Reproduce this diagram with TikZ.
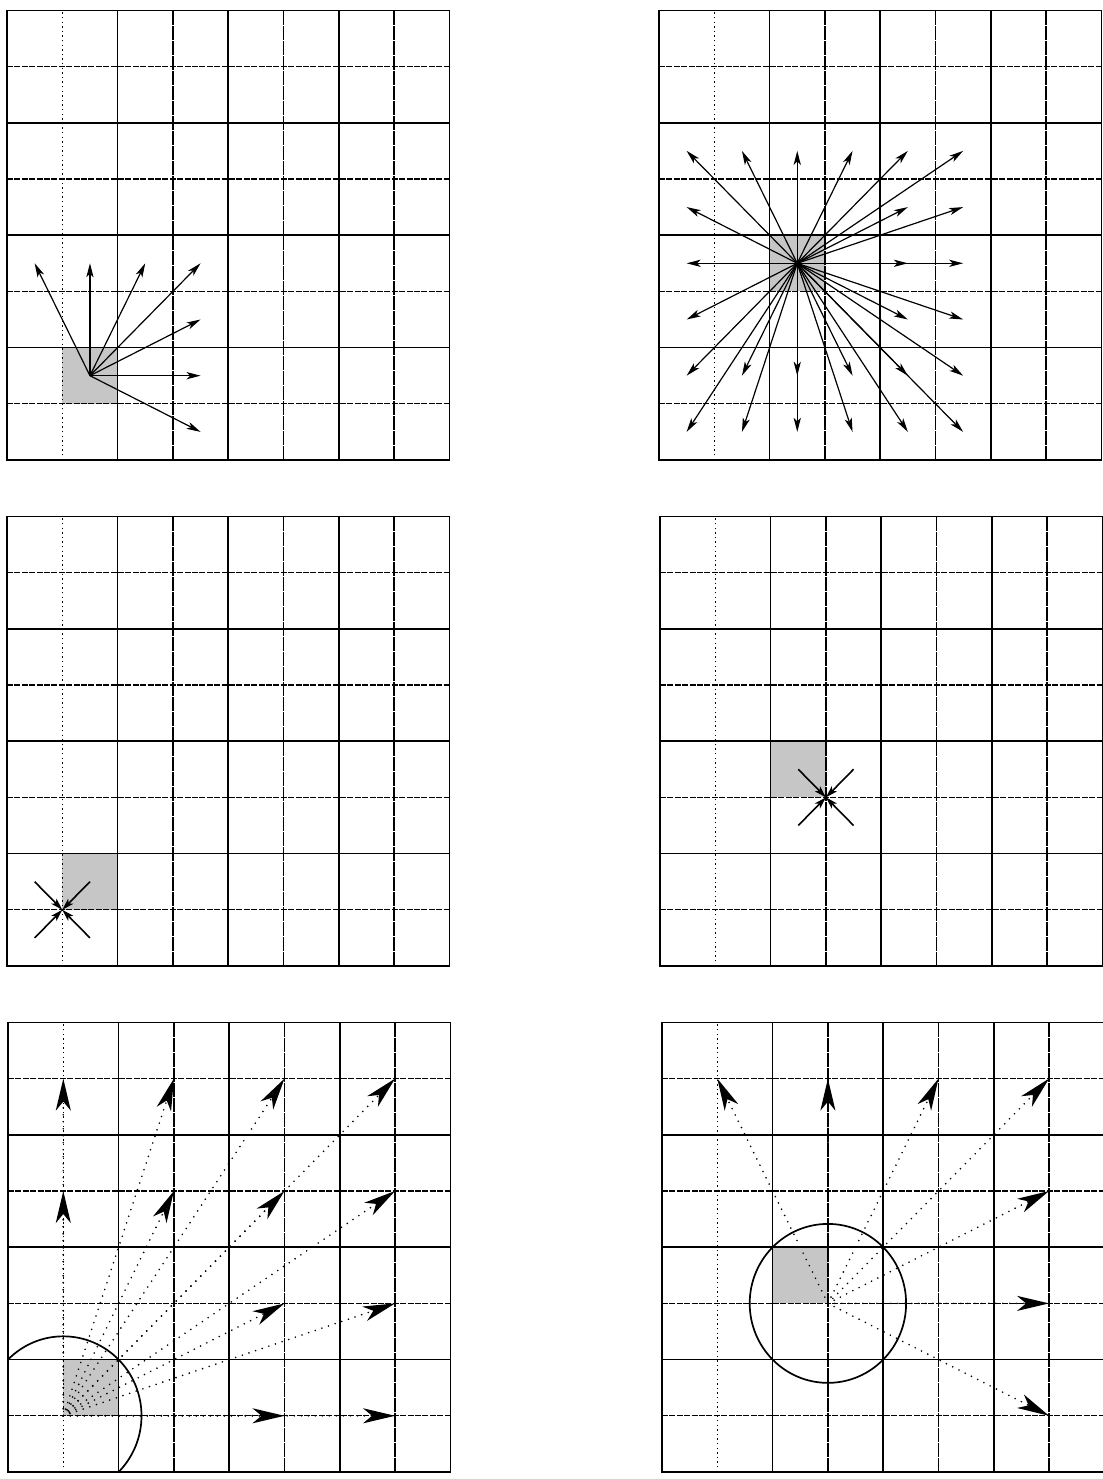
\documentclass[tikz,border=0pt]{standalone}
\usetikzlibrary{arrows.meta}
\tikzset{
  solidline/.style={line width=0.85pt},
  hdash/.style={line width=0.65pt, dash pattern=on 3pt off 0.7pt},
  vdash/.style={line width=0.65pt, dash pattern=on 7pt off 0.5pt},
  vdot/.style={line width=0.7pt, dash pattern=on 0.7pt off 1.6pt},
  thinarrow/.style={line width=0.6pt, -{Stealth[length=7pt,width=3.6pt,inset=1.8pt]}},
  convarrow/.style={line width=0.8pt, -{Stealth[length=6pt,width=3.6pt,inset=1.5pt]}},
  dotarrow/.style={line width=0.9pt, line cap=round, dash pattern=on 0pt off 3.5pt, -{Stealth[length=16pt,width=7.5pt,inset=4.5pt]}},
  shadecell/.style={fill=gray!45, draw=none},
  cellunits/.style={x=27.65pt, y=28.1pt}
}
\newcommand\drawgridpanel{%
  \foreach \i in {2,4,6} {
    \draw[solidline] (\i,0) -- (\i,8);
    \draw[solidline] (0,\i) -- (8,\i);
  }
  \foreach \i in {3,5,7} {
    \draw[vdash] (\i,0) -- (\i,8);
  }
  \foreach \i in {1,3,5,7} {
    \draw[hdash] (0,\i) -- (8,\i);
  }
  \draw[vdot] (1,0) -- (1,8);
  \draw[solidline] (0,0) rectangle (8,8);
}
\begin{document}
\begin{tikzpicture}
\useasboundingbox (0,0) rectangle (551.5pt,739.5pt);
\fill[white] (0,0) rectangle (551.5pt,739.5pt);

% Panel 1 (top left)
\begin{scope}[shift={(3.5pt,509.5pt)}, cellunits]
  \fill[shadecell] (1,1) rectangle (2,2);
  \drawgridpanel
  \coordinate (oA) at (1.5,1.5);
  \foreach \x/\y [count=\k] in {0.5/3.5, 1.5/3.5, 2.5/3.5, 3.5/3.5, 3.5/2.5, 3.5/1.5, 3.5/0.5} {
    \coordinate (eA\k) at (\x,\y);
    \draw[thinarrow] (oA) -- (eA\k);
  }
\end{scope}

% Panel 2 (top right)
\begin{scope}[shift={(329.5pt,509.5pt)}, cellunits]
  \fill[shadecell] (2,3) rectangle (3,4);
  \drawgridpanel
  \coordinate (oB) at (2.5,3.5);
  \foreach \x/\y [count=\k] in {0.5/5.5, 1.5/5.5, 2.5/5.5, 3.5/5.5, 4.5/5.5, 5.5/5.5,
      0.5/4.5, 4.5/4.5, 5.5/4.5,
      0.5/3.5, 4.5/3.5, 5.5/3.5,
      0.5/2.5, 4.5/2.5, 5.5/2.5,
      0.5/1.5, 1.5/1.5, 2.5/1.5, 3.5/1.5, 4.5/1.5, 5.5/1.5,
      0.5/0.5, 1.5/0.5, 2.5/0.5, 3.5/0.5, 4.5/0.5, 5.5/0.5} {
    \coordinate (eB\k) at (\x,\y);
    \draw[thinarrow] (oB) -- (eB\k);
  }
\end{scope}

% Panel 3 (middle left)
\begin{scope}[shift={(3.5pt,256.5pt)}, cellunits]
  \fill[shadecell] (1,1) rectangle (2,2);
  \drawgridpanel
  \coordinate (oC) at (1,1);
  \foreach \x/\y [count=\k] in {0.5/1.5, 1.5/1.5, 0.5/0.5, 1.5/0.5} {
    \coordinate (eC\k) at (\x,\y);
    \draw[convarrow] (eC\k) -- (oC);
  }
\end{scope}

% Panel 4 (middle right)
\begin{scope}[shift={(330pt,256.5pt)}, cellunits]
  \fill[shadecell] (2,3) rectangle (3,4);
  \drawgridpanel
  \coordinate (oD) at (3,3);
  \foreach \x/\y [count=\k] in {2.5/3.5, 3.5/3.5, 2.5/2.5, 3.5/2.5} {
    \coordinate (eD\k) at (\x,\y);
    \draw[convarrow] (eD\k) -- (oD);
  }
\end{scope}

% Panel 5 (bottom left)
\begin{scope}[shift={(4pt,3.5pt)}, cellunits]
  \fill[shadecell] (1,1) rectangle (2,2);
  \drawgridpanel
  \coordinate (oE) at (1,1);
  \begin{scope}
    \clip (0,0) rectangle (8,8);
    \draw[solidline] (oE) circle (1.4142);
  \end{scope}
  \foreach \x/\y [count=\k] in {1/5, 1/7, 3/5, 3/7, 5/5, 5/7, 7/7, 7/5, 5/3, 7/3, 5/1, 7/1} {
    \coordinate (eE\k) at (\x,\y);
    \draw[dotarrow] (oE) -- (eE\k);
  }
\end{scope}

% Panel 6 (bottom right)
\begin{scope}[shift={(331pt,3.5pt)}, cellunits]
  \fill[shadecell] (2,3) rectangle (3,4);
  \drawgridpanel
  \coordinate (oF) at (3,3);
  \draw[solidline] (oF) circle (1.4142);
  \foreach \x/\y [count=\k] in {1/7, 3/7, 5/7, 7/7, 7/5, 7/3, 7/1} {
    \coordinate (eF\k) at (\x,\y);
    \draw[dotarrow] (oF) -- (eF\k);
  }
\end{scope}
\end{tikzpicture}
\end{document}
